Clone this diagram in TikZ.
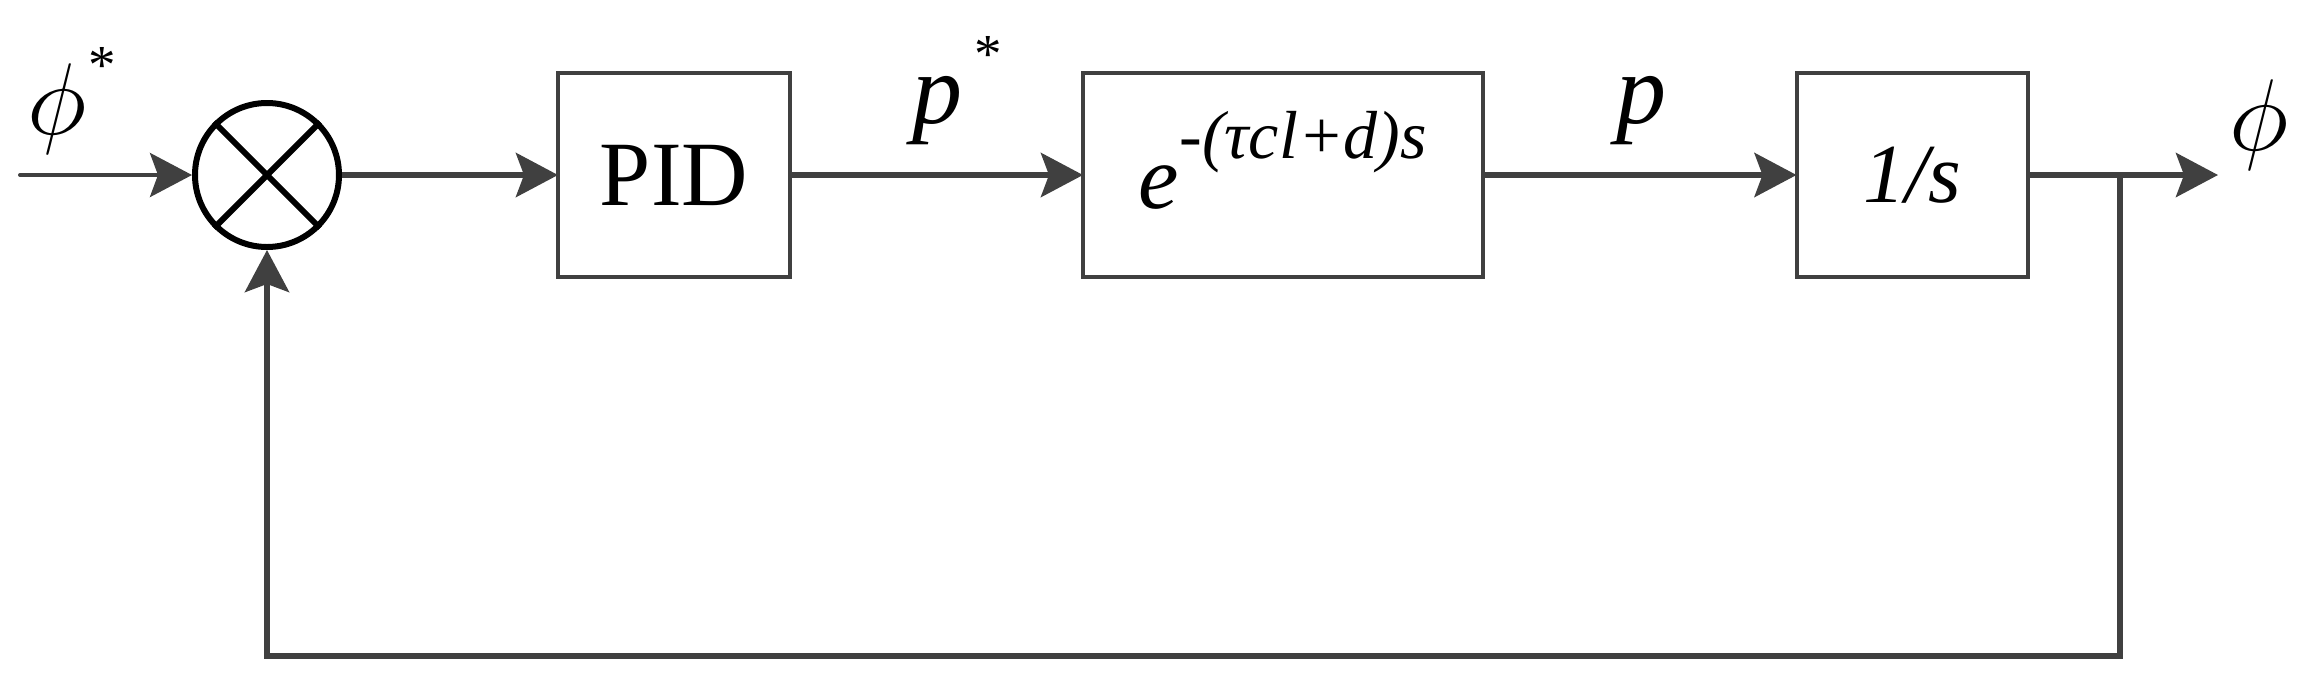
\documentclass[tikz,border=0pt]{standalone}
\usepackage{graphicx}
\usepackage{fontspec}
\setmainfont{Liberation Serif}
\usetikzlibrary{arrows.meta}
\definecolor{ln}{HTML}{404040}
\newcommand{\bigfont}[1]{\fontsize{#1}{#1}\selectfont}
\newcommand{\bigphi}{\scalebox{4.1}{\fontsize{24.88}{25}\selectfont$\phi$}}
\tikzset{
  blk/.style={draw=ln, line width=4pt, minimum height=204pt, inner sep=0pt, outer sep=0pt},
  sig/.style={draw=ln, line width=6pt, -{Stealth[length=42pt,width=44pt,inset=8pt]}},
  lbl/.style={inner sep=0pt, outer sep=0pt},
}
\begin{document}
\begin{tikzpicture}[x=1pt,y=-1pt]
\useasboundingbox (0,0) rectangle (2304,681);
% summing junction
\node[circle, draw=black, line width=6pt, minimum size=144pt, inner sep=0pt] (sum) at (267,175) {};
\draw[black, line width=6pt] (sum.north east) -- (sum.south west);
\draw[black, line width=6pt] (sum.north west) -- (sum.south east);
% blocks
\node[blk, minimum width=232pt, font=\bigfont{92}] (pid) at (674,175) {PID};
\node[blk, minimum width=400pt] (dly) at (1283,175) {};
\node[lbl, anchor=base] (dlytxt) at (1283,208)
  {\bigfont{91}\itshape e\raisebox{50pt}{\bigfont{68}-(τcl+d)s}};
\node[blk, minimum width=231pt, font=\bigfont{84}\itshape] (int) at (1912,175) {1/s};
% coordinates
\coordinate (in) at (20,175);
\coordinate (out) at (2218,175);
\coordinate (br) at (2120,175);
\coordinate (fb) at (2120,656);
% connectors
\draw[sig, line width=4pt, line cap=round] (in) -- (sum.west);
\draw[sig] (sum.east) -- (pid.west);
\draw[sig] (pid.east) -- (dly.west);
\draw[sig] (dly.east) -- (int.west);
\draw[sig] (int.east) -- (out);
\draw[sig, line join=miter] (br) -- (fb) -| (sum.south);
% labels
\node[lbl] (phistar) at (57,109) {\bigphi};
\node[lbl, font=\bigfont{55}] (star1) at (102,65) {*};
\node[lbl, font=\bigfont{100}\itshape] (pstar) at (937,111) {p};
\node[lbl, font=\bigfont{55}] (star2) at (988,54) {*};
\node[lbl, font=\bigfont{100}\itshape] (plbl) at (1641,111) {p};
\node[lbl] (philbl) at (2259,125) {\bigphi};
\end{tikzpicture}
\end{document}
